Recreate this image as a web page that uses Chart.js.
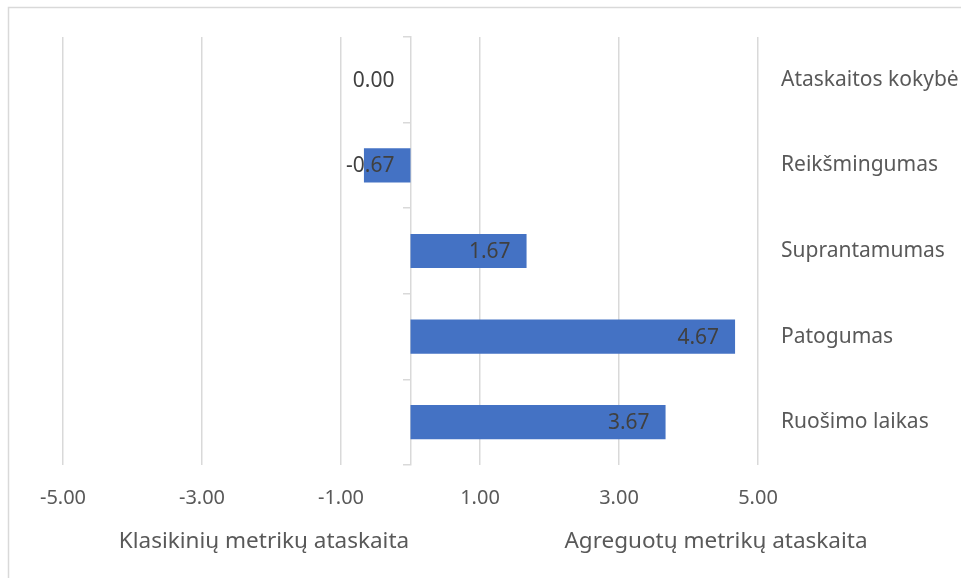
<!DOCTYPE html>
<html>
<head>
<meta charset="utf-8">
<script src="https://cdn.jsdelivr.net/npm/chart.js@4.4.1/dist/chart.umd.min.js"></script>
<style>
  html, body { margin: 0; padding: 0; background: #fff; }
  #wrap { width: 961px; height: 578px; position: relative; }
</style>
</head>
<body>
<div id="wrap"><canvas id="grafikas"></canvas></div>
<script>
// ----------------------- duomenys --------------------------------------------//
var kategorijos = ['Ataskaitos kokybė', 'Reikšmingumas', 'Suprantamumas', 'Patogumas', 'Ruošimo laikas'];
var reiksmes = [0.00, -0.67, 1.67, 4.67, 3.67];
var xTikai = [-5, -3, -1, 1, 3, 5];
var antrastes = ['Klasikinių metrikų ataskaita', 'Agreguotų metrikų ataskaita'];

var SRIFTAS = '"Noto Sans", "Open Sans", sans-serif';
var PILKA = '#d9d9d9';

// reikšmės prie stulpelių galo (viduje)
var reiksmiuEtiketes = {
    id: 'reiksmiuEtiketes',
    afterDatasetsDraw: function (chart) {
        var ctx = chart.ctx;
        var meta = chart.getDatasetMeta(0);
        ctx.save();
        ctx.font = '21px ' + SRIFTAS;
        ctx.fillStyle = '#404040';
        ctx.textAlign = 'right';
        ctx.textBaseline = 'middle';
        meta.data.forEach(function (el, i) {
            var v = reiksmes[i];
            var galas = v > 0 ? el.x : el.base;
            ctx.fillText(v.toFixed(2), galas - 16, el.y + 1);
        });
        ctx.restore();
    }
};

// rėmelis ir dvi apatinės antraštės
var remelis = {
    id: 'remelis',
    beforeDraw: function (chart) {
        var ctx = chart.ctx;
        ctx.save();
        ctx.strokeStyle = PILKA;
        ctx.lineWidth = 1.5;
        ctx.beginPath();
        ctx.moveTo(8.5, chart.height);
        ctx.lineTo(8.5, 7.5);
        ctx.lineTo(chart.width, 7.5);
        ctx.stroke();
        ctx.restore();
    },
    afterDraw: function (chart) {
        var ctx = chart.ctx;
        ctx.save();
        ctx.font = '22.5px ' + SRIFTAS;
        ctx.fillStyle = '#595959';
        ctx.textAlign = 'center';
        ctx.textBaseline = 'middle';
        ctx.fillText(antrastes[0], 264, 542);
        ctx.fillText(antrastes[1], 716, 542);
        ctx.restore();
    }
};

var ctx = document.getElementById('grafikas').getContext('2d');
var grafikas = new Chart(ctx, {
    type: 'bar',
    data: {
        labels: kategorijos,
        datasets: [{
            data: reiksmes,
            backgroundColor: '#4472C4',
            borderWidth: 0,
            categoryPercentage: 1,
            barPercentage: 0.4,
            yAxisID: 'y'
        }]
    },
    options: {
        indexAxis: 'y',
        responsive: true,
        maintainAspectRatio: false,
        animation: false,
        events: [],
        layout: { padding: { top: 37, left: 63, right: 0, bottom: 0 } },
        plugins: {
            legend: { display: false },
            tooltip: { enabled: false }
        },
        scales: {
            x: {
                type: 'linear',
                min: -5,
                max: 5,
                afterBuildTicks: function (scale) {
                    scale.ticks = xTikai.map(function (v) { return { value: v }; });
                },
                afterFit: function (scale) { scale.height = 113; },
                grid: { color: PILKA, lineWidth: 1.5, drawTicks: false },
                border: { display: false },
                ticks: {
                    padding: 21,
                    color: '#595959',
                    font: { family: SRIFTAS, size: 20 },
                    callback: function (v) { return Number(v).toFixed(2); }
                }
            },
            y: {
                type: 'category',
                position: { x: 0 },
                offset: true,
                grid: {
                    offset: true,
                    drawOnChartArea: false,
                    drawTicks: true,
                    tickLength: 7,
                    color: PILKA,
                    lineWidth: 1.5
                },
                border: { display: true, color: PILKA, width: 1.5 },
                ticks: { display: false }
            },
            y2: {
                type: 'category',
                position: 'right',
                labels: kategorijos,
                offset: true,
                afterFit: function (scale) { scale.width = 203; },
                grid: { display: false, drawTicks: false },
                border: { display: false },
                ticks: {
                    padding: 23,
                    color: '#595959',
                    font: { family: SRIFTAS, size: 21 }
                }
            }
        }
    },
    plugins: [reiksmiuEtiketes, remelis]
});
</script>
</body>
</html>
